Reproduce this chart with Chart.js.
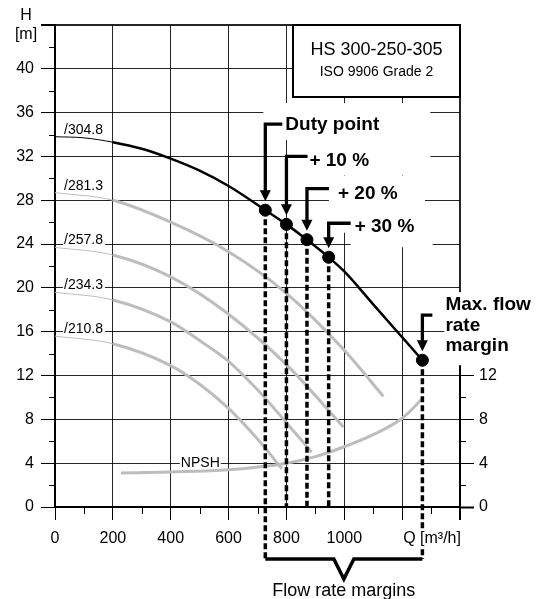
<!DOCTYPE html>
<html>
<head>
<meta charset="utf-8">
<script src="https://cdn.jsdelivr.net/npm/chart.js@4"></script>
<style>
  html, body { margin: 0; padding: 0; background: #fff; }
  canvas { display: block; }
</style>
</head>
<body>
<canvas id="pump-chart" width="539" height="599"></canvas>
<script>
'use strict';
// ***** DATA (Q in m3/h, H in m) *****
let impellerLabels = ['/304.8', '/281.3', '/257.8', '/234.3', '/210.8'];

let flow304 = [0, 100, 200, 300, 400, 500, 600, 727, 800, 871, 946, 1000, 1100, 1200, 1270];
let head304 = [33.8, 33.7, 33.3, 32.7, 31.8, 30.7, 29.3, 27.1, 25.8, 24.4, 22.8, 21.5, 18.5, 15.5, 13.4];

let flow281 = [0, 200, 400, 600, 800, 1000, 1135];
let head281 = [28.7, 28.0, 26.0, 23.3, 19.5, 14.3, 10.1];

let flow257 = [0, 200, 400, 600, 800, 997];
let head257 = [23.7, 23.0, 21.0, 17.6, 13.0, 7.3];

let flow234 = [0, 200, 400, 500, 600, 700, 800, 887];
let head234 = [19.6, 18.9, 16.9, 15.2, 13.3, 10.7, 7.7, 5.0];

let flow210 = [0, 200, 400, 500, 600, 700, 784];
let head210 = [15.6, 14.9, 12.9, 11.2, 9.0, 6.2, 3.5];

let flowNpsh = [228, 400, 600, 800, 900, 1000, 1100, 1200, 1270];
let headNpsh = [3.1, 3.2, 3.4, 4.0, 4.6, 5.5, 6.6, 8.1, 9.9];

// duty point, +10 %, +20 %, +30 %, max flow rate margin
let marginLabels = [['Duty point'], ['+ 10 %'], ['+ 20 %'], ['+ 30 %'], ['Max. flow', 'rate', 'margin']];
let marginFlow = [727, 800, 871, 946, 1270];
let marginHead = [27.1, 25.8, 24.4, 22.8, 13.4];

let flowTicks = [0, 200, 400, 600, 800, 1000];
let headTicks = [0, 4, 8, 12, 16, 20, 24, 28, 32, 36, 40];
let npshTicks = [0, 4, 8, 12];

let titleLines = ['HS 300-250-305', 'ISO 9906 Grade 2'];

// ***** HELPERS *****
const FONT = '"Liberation Sans", Arial, Helvetica, sans-serif';
Chart.defaults.font.family = FONT;
Chart.defaults.color = '#000';

function toPoints(xs, ys) {
  return xs.map((x, i) => ({ x: x, y: ys[i] }));
}

// thin line near shut-off, thick beyond Q = 200
function curveWidth(thick) {
  return (c) => (c.p0.parsed.x < 200 ? 1 : thick);
}

function curveDataset(xs, ys, color, thick) {
  return {
    data: toPoints(xs, ys),
    showLine: true,
    borderColor: color,
    borderWidth: thick,
    pointRadius: 0,
    cubicInterpolationMode: 'monotone',
    segment: { borderWidth: curveWidth(thick) }
  };
}

// callout layout: bar rise above dot, bar length, text offset, white mask box
let calloutLayout = [
  { rise: 86, bar: 17, dx: 20, dy: 1, mask: [-2, -21, 165, 16] },
  { rise: 68, bar: 21, dx: 23, dy: 4, mask: [21, -17, 144, 19] },
  { rise: 51, bar: 22, dx: 31, dy: 5, mask: [22, -13, 118, 44] },
  { rise: 34, bar: 22, dx: 26, dy: 4, mask: [22, -11, 104, 24] },
  { rise: 45, bar: 10, dx: 23, dy: -10, mask: [22, -23, 120, 50] }
];

function whiteBox(ctx, x0, y0, x1, y1) {
  ctx.fillStyle = '#fff';
  ctx.fillRect(x0, y0, x1 - x0, y1 - y0);
}

// ***** PLUGIN: annotations *****
const pumpDecor = {
  id: 'pumpDecor',
  beforeDatasetsDraw(chart) {
    const ctx = chart.ctx;
    const x = chart.scales.x;
    const y = chart.scales.y;
    const area = chart.chartArea;
    ctx.save();

    // masks behind the callout texts
    marginFlow.forEach((q, i) => {
      const L = calloutLayout[i];
      const sx = x.getPixelForValue(q);
      const by = y.getPixelForValue(marginHead[i]) - L.rise;
      whiteBox(ctx, sx + L.mask[0], by + L.mask[1], Math.min(sx + L.mask[2], chart.width), by + L.mask[3]);
    });

    // title box
    const bx = area.right - 167;
    whiteBox(ctx, bx, area.top, area.right, area.top + 72);
    ctx.lineWidth = 2;
    ctx.strokeStyle = '#000';
    ctx.strokeRect(bx, area.top, area.right - bx, 72);
    ctx.fillStyle = '#000';
    ctx.textAlign = 'center';
    ctx.textBaseline = 'middle';
    ctx.font = '18px ' + FONT;
    ctx.fillText(titleLines[0], (bx + area.right) / 2, area.top + 25);
    ctx.font = '14px ' + FONT;
    ctx.fillText(titleLines[1], (bx + area.right) / 2, area.top + 47);

    // impeller diameter labels
    const starts = [head304[0], head281[0], head257[0], head234[0], head210[0]];
    ctx.font = '14px ' + FONT;
    ctx.textAlign = 'left';
    ctx.textBaseline = 'alphabetic';
    impellerLabels.forEach((label, i) => {
      const lx = x.getPixelForValue(0) + 9;
      const ly = y.getPixelForValue(starts[i]) - 3;
      const w = ctx.measureText(label).width;
      whiteBox(ctx, lx - 1, ly - 12, lx + w + 2, ly + 2);
      ctx.fillStyle = '#000';
      ctx.fillText(label, lx, ly);
    });

    // NPSH label on the 4 m grid line
    const nx = x.getPixelForValue(435);
    const ny = y.getPixelForValue(4) + 4;
    const nw = ctx.measureText('NPSH').width;
    whiteBox(ctx, nx - 1, ny - 12, nx + nw + 1, ny + 2);
    ctx.fillStyle = '#000';
    ctx.fillText('NPSH', nx, ny);
    ctx.restore();
  },

  afterDatasetsDraw(chart) {
    const ctx = chart.ctx;
    const x = chart.scales.x;
    const y = chart.scales.y;
    const area = chart.chartArea;
    const bracketY = area.bottom + 52;
    ctx.save();

    // minor ticks
    ctx.strokeStyle = '#000';
    ctx.lineWidth = 1;
    ctx.beginPath();
    for (let q = 100; q < 1400; q += 200) {
      const tx = Math.round(x.getPixelForValue(q)) + 0.5;
      ctx.moveTo(tx, area.bottom);
      ctx.lineTo(tx, area.bottom + 7);
    }
    for (let h = 2; h < 44; h += 4) {
      const ty = Math.round(y.getPixelForValue(h)) + 0.5;
      ctx.moveTo(area.left - 6, ty);
      ctx.lineTo(area.left, ty);
      if (h < 12) {
        ctx.moveTo(area.right, ty);
        ctx.lineTo(area.right + 6, ty);
      }
    }
    ctx.stroke();

    // right NPSH axis line
    ctx.lineWidth = 2;
    ctx.beginPath();
    ctx.moveTo(area.right, area.bottom);
    ctx.lineTo(area.right, y.getPixelForValue(12.9));
    ctx.stroke();

    // dashed drop lines
    ctx.lineWidth = 3.5;
    ctx.setLineDash([6, 3]);
    marginFlow.forEach((q, i) => {
      const sx = x.getPixelForValue(q);
      const endY = (i === 0 || i === marginFlow.length - 1) ? bracketY : area.bottom;
      ctx.beginPath();
      ctx.moveTo(sx, y.getPixelForValue(marginHead[i]));
      ctx.lineTo(sx, endY);
      ctx.stroke();
    });
    ctx.setLineDash([]);

    // bracket under the axis
    const bx0 = x.getPixelForValue(marginFlow[0]);
    const bx1 = x.getPixelForValue(marginFlow[marginFlow.length - 1]);
    const bmid = (bx0 + bx1) / 2;
    ctx.lineWidth = 3.5;
    ctx.lineJoin = 'miter';
    ctx.beginPath();
    ctx.moveTo(bx0, bracketY);
    ctx.lineTo(bmid - 10, bracketY);
    ctx.lineTo(bmid, bracketY + 20);
    ctx.lineTo(bmid + 10, bracketY);
    ctx.lineTo(bx1, bracketY);
    ctx.stroke();
    ctx.fillStyle = '#000';
    ctx.font = '18px ' + FONT;
    ctx.textAlign = 'center';
    ctx.textBaseline = 'middle';
    ctx.fillText('Flow rate margins', bmid, bracketY + 32);

    // callout arrows and texts
    ctx.font = 'bold 19px ' + FONT;
    ctx.textAlign = 'left';
    marginFlow.forEach((q, i) => {
      const L = calloutLayout[i];
      const sx = x.getPixelForValue(q);
      const dotY = y.getPixelForValue(marginHead[i]);
      const tipY = dotY - 9;
      const by = dotY - L.rise;
      ctx.lineWidth = 3.3;
      ctx.beginPath();
      ctx.moveTo(sx + L.bar, by);
      ctx.lineTo(sx, by);
      ctx.lineTo(sx, tipY - 9);
      ctx.stroke();
      ctx.beginPath();
      ctx.moveTo(sx - 5.5, tipY - 11);
      ctx.lineTo(sx + 5.5, tipY - 11);
      ctx.lineTo(sx, tipY);
      ctx.closePath();
      ctx.fill();
      marginLabels[i].forEach((line, k) => {
        ctx.fillText(line, sx + L.dx, by + L.dy + k * 20.4);
      });
    });

    // Q unit label over the drop line
    ctx.font = '16px ' + FONT;
    const qx = x.getPixelForValue(1200) + 1;
    const qy = area.bottom + 32;
    const qw = ctx.measureText('Q [m³/h]').width;
    whiteBox(ctx, qx - 1, qy - 10, qx + qw + 1, qy + 9);
    ctx.fillStyle = '#000';
    ctx.fillText('Q [m³/h]', qx, qy);

    // left axis title
    ctx.textAlign = 'center';
    ctx.fillText('H', 26, 16);
    ctx.fillText('[m]', 26, 35);
    ctx.restore();
  }
};

// ***** CHART *****
let ctx = document.getElementById('pump-chart');

let chartDatasets = [
  {
    data: toPoints(marginFlow, marginHead),
    showLine: false,
    pointRadius: 6,
    pointBackgroundColor: '#000',
    pointBorderColor: '#000'
  },
  curveDataset(flow304, head304, '#000', 2.5),
  curveDataset(flow281, head281, '#bdbdbd', 3),
  curveDataset(flow257, head257, '#bdbdbd', 3),
  curveDataset(flow234, head234, '#bdbdbd', 3),
  curveDataset(flow210, head210, '#bdbdbd', 3),
  curveDataset(flowNpsh, headNpsh, '#bdbdbd', 3)
];

let gridColor = 'rgba(0,0,0,0.85)';

let chartOptions = {
  responsive: false,
  animation: false,
  layout: { padding: { top: 25, left: 0, right: 0, bottom: 0 } },
  plugins: { legend: { display: false }, tooltip: { enabled: false } },
  scales: {
    x: {
      type: 'linear',
      min: 0,
      max: 1400,
      afterFit: (s) => { s.height = 92; },
      ticks: {
        stepSize: 200,
        autoSkip: false,
        maxRotation: 0,
        padding: 9,
        font: { size: 16 },
        callback: (v) => (flowTicks.includes(v) ? String(v) : '')
      },
      grid: {
        color: gridColor,
        tickColor: '#000',
        tickLength: 13,
        lineWidth: (c) => (c.tick && c.tick.value === 1400 ? 2 : 1)
      },
      border: { display: true, color: '#000', width: 2 }
    },
    y: {
      type: 'linear',
      position: 'left',
      min: 0,
      max: 44,
      afterFit: (s) => { s.width = 55; },
      ticks: {
        stepSize: 4,
        autoSkip: false,
        padding: 7,
        font: { size: 16 },
        callback: (v) => (headTicks.includes(v) ? String(v) : '')
      },
      grid: {
        color: gridColor,
        tickColor: '#000',
        tickLength: 14,
        lineWidth: (c) => (c.tick && c.tick.value === 44 ? 2 : 1)
      },
      border: { display: true, color: '#000', width: 2 }
    },
    y2: {
      type: 'linear',
      position: 'right',
      min: 0,
      max: 44,
      afterFit: (s) => { s.width = 79; },
      afterBuildTicks: (s) => { s.ticks = npshTicks.map((v) => ({ value: v })); },
      ticks: {
        autoSkip: false,
        padding: 5,
        font: { size: 16 },
        callback: (v) => String(v)
      },
      grid: {
        drawOnChartArea: false,
        tickColor: '#000',
        tickLength: 14,
        tickWidth: (c) => (c.tick && c.tick.value === 0 ? 2 : 1)
      },
      border: { display: false }
    }
  }
};

new Chart(ctx, {
  type: 'scatter',
  data: { datasets: chartDatasets },
  options: chartOptions,
  plugins: [pumpDecor]
});
</script>
</body>
</html>
